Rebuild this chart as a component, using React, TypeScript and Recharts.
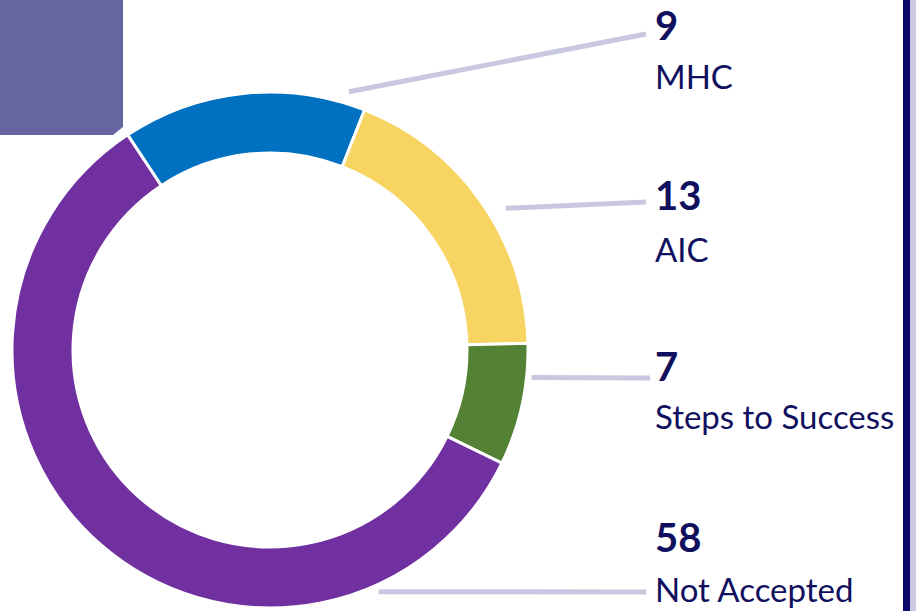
import { PieChart, Pie, Cell } from 'recharts';

// categories and the counts printed next to the ring
const categories = ['MHC', 'AIC', 'Steps to Success', 'Not Accepted'];
const counts = [9, 13, 7, 58];
// arc size of each slice as drawn in the picture (degrees)
const sliceShares = [55, 67, 27.5, 210.5];

const colors = ['#0070C0', '#F8D462', '#548235', '#7030A0'];

const data = categories.map((name, i) => ({ name, share: sliceShares[i], count: counts[i] }));

// label layout
const LABEL_X = 655;
const numberY = [40, 210, 381, 552];
const nameY = [89, 262, 429, 602];
const leaderEnd = [
  { x: 646, y: 34 },
  { x: 646, y: 202 },
  { x: 650, y: 378 },
  { x: 646, y: 592 },
];
const leaderAngle = [73, 31, -6, -65.8];
const leaderRadius = [270, 275, 263, 265];

const TEXT = '#10105E';
const RAD = Math.PI / 180;

const renderLabel = (props: any) => {
  const i = categories.indexOf(props.name);
  if (i < 0) return null;
  const { cx, cy } = props;
  const sx = cx + leaderRadius[i] * Math.cos(leaderAngle[i] * RAD);
  const sy = cy - leaderRadius[i] * Math.sin(leaderAngle[i] * RAD);
  return (
    <g key={`lbl-${i}`}>
      <line x1={sx} y1={sy} x2={leaderEnd[i].x} y2={leaderEnd[i].y} stroke="#C8C8E0" strokeWidth={5} />
      <text x={LABEL_X} y={numberY[i]} fill={TEXT} fontFamily="Lato" fontWeight={700} fontSize={40}>
        {counts[i]}
      </text>
      <text x={LABEL_X} y={nameY[i]} fill={TEXT} fontFamily="Lato" fontSize={33}>
        {categories[i]}
      </text>
    </g>
  );
};

export default function App() {
  return (
    <div style={{ position: 'absolute', left: 0, top: 0, width: 916, height: 611, background: '#fff', overflow: 'hidden' }}>
      <div
        style={{
          position: 'absolute', left: 0, top: 0, width: 123, height: 135, background: '#6764A2',
          clipPath: 'polygon(0 0, 123px 0, 123px 127px, 113px 135px, 0 135px)',
        }}
      />
      <div style={{ position: 'absolute', left: 903, top: 0, width: 7, height: 611, background: '#08086A' }} />
      <div style={{ position: 'absolute', left: 910, top: 0, width: 6, height: 611, background: '#C9CAE0' }} />
      <div style={{ position: 'absolute', left: 0, top: 0 }}>
        <PieChart width={916} height={611} margin={{ top: 0, right: 0, bottom: 0, left: 0 }}>
          <Pie
            data={data}
            dataKey="share"
            nameKey="name"
            cx={270}
            cy={350}
            innerRadius={197}
            outerRadius={258}
            startAngle={123.5}
            endAngle={-236.5}
            stroke="#ffffff"
            strokeWidth={3}
            label={renderLabel}
            labelLine={false}
            isAnimationActive={false}
          >
            {data.map((d, i) => (
              <Cell key={d.name} fill={colors[i]} />
            ))}
          </Pie>
        </PieChart>
      </div>
    </div>
  );
}
